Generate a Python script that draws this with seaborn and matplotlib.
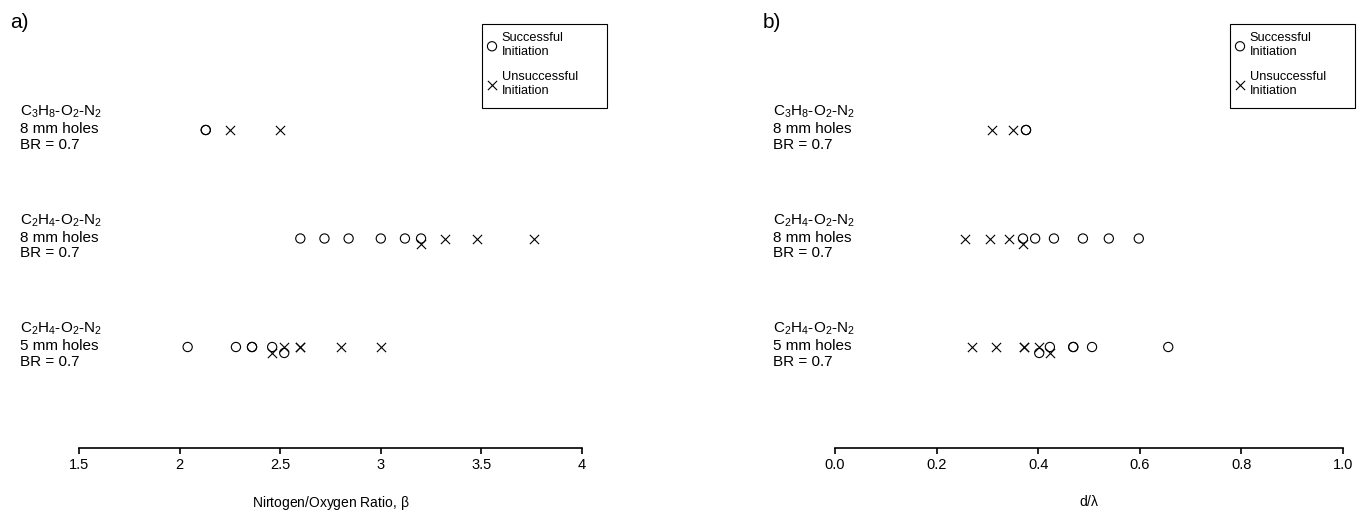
import numpy as np
import pandas as pd
import seaborn as sns
import matplotlib.pyplot as plt
from matplotlib.patches import Rectangle

# ---- data ----
row_labels = [
    r"C$_3$H$_8$-O$_2$-N$_2$" + "\n8 mm holes\nBR = 0.7",
    r"C$_2$H$_4$-O$_2$-N$_2$" + "\n8 mm holes\nBR = 0.7",
    r"C$_2$H$_4$-O$_2$-N$_2$" + "\n5 mm holes\nBR = 0.7",
]
row_level = [3, 2, 1]

# panel a) nitrogen/oxygen ratio
beta_succ = [
    [2.13, 2.13],
    [2.60, 2.72, 2.84, 3.00, 3.12, 3.20],
    [2.04, 2.28, 2.36, 2.36, 2.46, 2.52],
]
beta_succ_low = [  # 1 = drawn slightly below the row (overlap)
    [0, 0],
    [0, 0, 0, 0, 0, 0],
    [0, 0, 0, 0, 0, 1],
]
beta_fail = [
    [2.25, 2.50],
    [3.20, 3.32, 3.48, 3.76],
    [2.46, 2.52, 2.60, 2.60, 2.80, 3.00],
]
beta_fail_low = [
    [0, 0],
    [1, 0, 0, 0],
    [1, 0, 0, 0, 0, 0],
]

# panel b) d / lambda
dl_succ = [
    [0.376, 0.376],
    [0.370, 0.394, 0.431, 0.488, 0.539, 0.598],
    [0.402, 0.423, 0.469, 0.469, 0.506, 0.656],
]
dl_succ_low = [
    [0, 0],
    [0, 0, 0, 0, 0, 0],
    [1, 0, 0, 0, 0, 0],
]
dl_fail = [
    [0.309, 0.350],
    [0.256, 0.305, 0.343, 0.370],
    [0.270, 0.317, 0.372, 0.372, 0.402, 0.423],
]
dl_fail_low = [
    [0, 0],
    [0, 0, 0, 1],
    [0, 0, 0, 0, 0, 1],
]

LOW = 0.055


def to_frame(values, lows):
    recs = []
    for lvl, vals, lw in zip(row_level, values, lows):
        for v, l in zip(vals, lw):
            recs.append({"x": v, "y": lvl - LOW * l})
    return pd.DataFrame(recs)


sns.set_theme(style="white")
plt.rcParams["font.family"] = ["Liberation Sans", "DejaVu Sans"]
plt.rcParams["mathtext.default"] = "regular"
plt.rcParams["text.color"] = "black"
plt.rcParams["axes.labelcolor"] = "black"
plt.rcParams["xtick.color"] = "black"

fig = plt.figure(figsize=(13.62, 5.11), dpi=100)
W, H = 1362, 511
ax_bottom = (H - 448) / H
ax_h = (448 - 10) / H
ax1 = fig.add_axes([79 / W, ax_bottom, 503 / W, ax_h])
ax2 = fig.add_axes([835 / W, ax_bottom, 508 / W, ax_h])

panels = [
    (ax1, beta_succ, beta_succ_low, beta_fail, beta_fail_low,
     (1.5, 4.0), [1.5, 2, 2.5, 3, 3.5, 4], ["1.5", "2", "2.5", "3", "3.5", "4"],
     r"Nirtogen/Oxygen Ratio, $\beta$", "a)", 10, 482),
    (ax2, dl_succ, dl_succ_low, dl_fail, dl_fail_low,
     (0.0, 1.0), [0, 0.2, 0.4, 0.6, 0.8, 1.0], ["0.0", "0.2", "0.4", "0.6", "0.8", "1.0"],
     r"d/$\lambda$", "b)", 763, 1230),
]

ylo = 1 - (448 - 347) / 108.5
yhi = 3 + (130 - 10) / 108.5

for ax, s, sl, f, fl, xlim, ticks, tlabels, xlabel, tag, tagx, legx in panels:
    ds = to_frame(s, sl)
    df = to_frame(f, fl)
    sns.scatterplot(data=ds, x="x", y="y", ax=ax, marker="o", s=44,
                    facecolors="none", edgecolor="black", linewidth=0.8,
                    label="Successful\nInitiation", legend=False)
    sns.scatterplot(data=df, x="x", y="y", ax=ax, marker="x", s=44,
                    color="black", linewidth=0.8,
                    label="Unsuccessful\nInitiation", legend=False)
    ax.set_xlim(*xlim)
    ax.set_ylim(ylo, yhi)
    ax.set_xticks(ticks)
    ax.set_xticklabels(tlabels, fontsize=10.5)
    ax.set_yticks([])
    ax.set_ylabel("")
    ax.set_xlabel(xlabel, fontsize=10, labelpad=16)
    for sp in ["left", "top", "right"]:
        ax.spines[sp].set_visible(False)
    ax.spines["bottom"].set_color("black")
    ax.spines["bottom"].set_linewidth(1.2)
    ax.tick_params(axis="x", bottom=True, direction="out", length=4, width=1.2,
                   color="black", pad=3)
    ax.set_facecolor("none")

    for lvl, lab in zip(row_level, row_labels):
        ax.annotate(lab, xy=(tagx + 10, lvl + 0.02),
                    xycoords=("figure pixels", "data"),
                    ha="left", va="center", fontsize=11, linespacing=1.15,
                    annotation_clip=False)

    fig.text(tagx / W, 1 - 22 / H, tag, fontsize=15, ha="left", va="center")

    # legend box drawn as a plain rectangle, entries without frame
    fig.patches.append(Rectangle((legx / W, 1 - 108 / H), 125 / W, 84 / H,
                                 transform=fig.transFigure, fill=False,
                                 edgecolor="black", linewidth=0.8))
    leg = ax.legend(loc="upper left", bbox_to_anchor=((legx + 4) / W, 1 - 32 / H),
                    bbox_transform=fig.transFigure, fontsize=9.2, frameon=False,
                    handletextpad=0.3, handlelength=0.94, borderpad=0,
                    labelspacing=1.0, borderaxespad=0)
    for t in leg.get_texts():
        t.set_linespacing(1.25)

fig.savefig("out.png", dpi=100)
